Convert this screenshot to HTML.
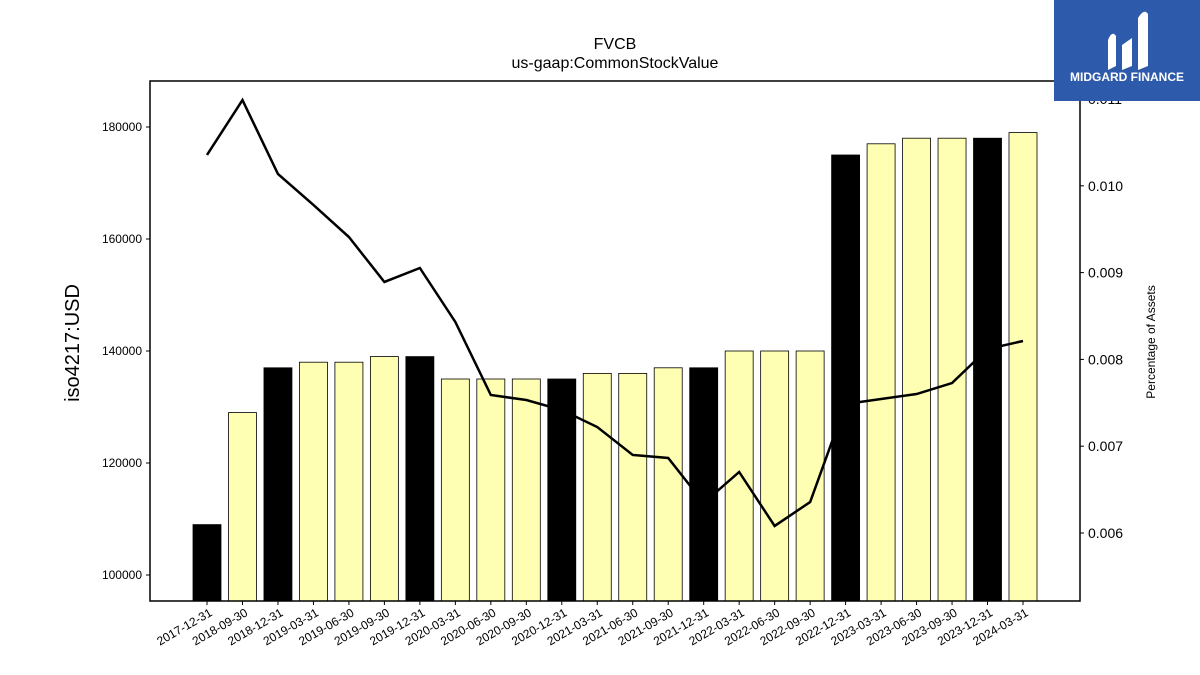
<!DOCTYPE html>
<html><head><meta charset="utf-8"><style>
body{margin:0;background:#fff;width:1200px;height:675px;overflow:hidden;font-family:"Liberation Sans","DejaVu Sans",sans-serif}
</style></head><body>
<svg width="1200" height="675" style="position:absolute;left:0;top:0">
<text x="615" y="49" text-anchor="middle" font-size="16">FVCB</text>
<text x="615" y="68" text-anchor="middle" font-size="16">us-gaap:CommonStockValue</text>
<g id="bars"></g><g id="line"></g><g id="axes"></g>
<text transform="translate(79,343) rotate(-90)" text-anchor="middle" font-size="20">iso4217:USD</text>
<text transform="translate(1155,342) rotate(-90)" text-anchor="middle" font-size="12">Percentage of Assets</text>
<g>
<rect x="1054" y="0" width="146" height="101" fill="#2d5aab"/>
<path d="M1108 70 L1108 40 Q1112 30 1116 36 L1116 66 Z M1122 70 L1122 45 L1132 38 L1132 66 Z M1138 70 L1138 18 Q1144 8 1148 14 L1148 66 Z" fill="#fff"/>
<text x="1127" y="81" text-anchor="middle" font-size="12" font-weight="bold" fill="#fff">MIDGARD FINANCE</text>
</g>
</svg>
<script>
const categories=["2017-12-31","2018-09-30","2018-12-31","2019-03-31","2019-06-30","2019-09-30","2019-12-31","2020-03-31","2020-06-30","2020-09-30","2020-12-31","2021-03-31","2021-06-30","2021-09-30","2021-12-31","2022-03-31","2022-06-30","2022-09-30","2022-12-31","2023-03-31","2023-06-30","2023-09-30","2023-12-31","2024-03-31"];
const values=[109000,129000,137000,138000,138000,139000,139000,135000,135000,135000,135000,136000,136000,137000,137000,140000,140000,140000,175000,177000,178000,178000,178000,179000];
const pct=[0.010355,0.010988,0.010136,0.009779,0.009410,0.008892,0.009053,0.008431,0.007590,0.007532,0.007417,0.007221,0.006899,0.006864,0.006346,0.006703,0.006081,0.006357,0.007486,0.007544,0.007601,0.007728,0.008120,0.008212];
const leftTicks=[100000,120000,140000,160000,180000];
const rightTicks=[0.006,0.007,0.008,0.009,0.010,0.011];
const NS="http://www.w3.org/2000/svg";
const L=150,R=1080,T=81,B=601;
const yL=v=>575-(v-100000)*448/80000;
const yR=v=>533-(v-0.006)*86800;
const xC=i=>207+i*(1023-207)/(categories.length-1);
function mk(tag,attrs,parent){const e=document.createElementNS(NS,tag);for(const k in attrs)e.setAttribute(k,attrs[k]);parent.appendChild(e);return e;}
const gb=document.getElementById('bars'),gl=document.getElementById('line'),ga=document.getElementById('axes');
values.forEach((v,i)=>{
 const blk=categories[i].endsWith('12-31');
 const r=mk('rect',{x:xC(i)-14,y:yL(v),width:28,height:B-yL(v),fill:blk?'#000':'#ffffb3',stroke:'#000','stroke-width':0.8},gb);
 
 
});
const p=mk('polyline',{points:pct.map((v,i)=>xC(i)+','+yR(v)).join(' '),fill:'none',stroke:'#000','stroke-width':2.5},gl);


const fr=mk('rect',{x:L,y:T,width:R-L,height:B-T,fill:'none',stroke:'#000','stroke-width':1.5},ga);


leftTicks.forEach(v=>{
 mk('line',{x1:L-4,x2:L,y1:yL(v),y2:yL(v),stroke:'#000'},ga);
 const t=mk('text',{x:L-8,y:yL(v)+4,'text-anchor':'end','font-size':12},ga);t.textContent=v;
 
 
});
rightTicks.forEach(v=>{
 mk('line',{x1:R,x2:R+4,y1:yR(v),y2:yR(v),stroke:'#000'},ga);
 const t=mk('text',{x:R+8,y:yR(v)+5,'font-size':14},ga);t.textContent=v.toFixed(3);
 
 
});
categories.forEach((c,i)=>{
 mk('line',{x1:xC(i),x2:xC(i),y1:B,y2:B+4,stroke:'#000'},ga);
 const t=mk('text',{transform:`translate(${xC(i)+6},${B+14}) rotate(-30)`,'text-anchor':'end','font-size':12},ga);t.textContent=c;
 
 
});
</script>
</body></html>
